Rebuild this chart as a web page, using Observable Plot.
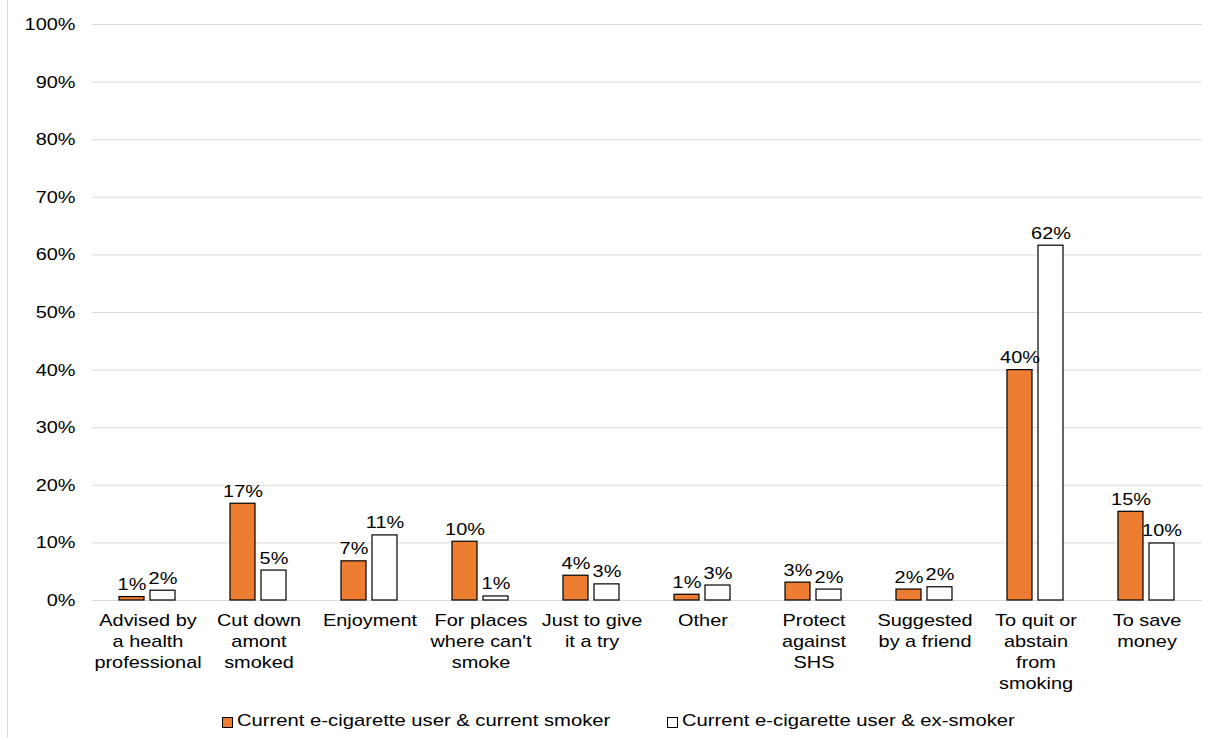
<!DOCTYPE html>
<html>
<head>
<meta charset="utf-8">
<script src="https://cdn.jsdelivr.net/npm/d3@7"></script>
<script src="https://cdn.jsdelivr.net/npm/@observablehq/plot@0.6"></script>
<style>
  html, body { margin: 0; padding: 0; background: #fff; }
  body { width: 1208px; height: 740px; position: relative; overflow: hidden; font-family: "Liberation Sans", Arial, sans-serif; }
  #border { position: absolute; left: 7px; top: 0; width: 1px; height: 738px; background: #d9d9d9; }
  #chart { position: absolute; left: 0; top: 0; }
  #chart svg { display: block; }
  .sw { position: absolute; top: 717px; width: 9px; height: 9px; border: 1px solid #000; box-sizing: content-box; }
  .lab { position: absolute; top: 711px; font-size: 17px; line-height: 20px; color: #000; white-space: nowrap; transform-origin: left center; transform: scaleX(1.19); }
</style>
</head>
<body>
<div id="border"></div>
<div id="chart"></div>
<div id="legend"></div>
<script>
const categories = [
  "Advised by\na health\nprofessional",
  "Cut down\namont\nsmoked",
  "Enjoyment",
  "For places\nwhere can't\nsmoke",
  "Just to give\nit a try",
  "Other",
  "Protect\nagainst\nSHS",
  "Suggested\nby a friend",
  "To quit or\nabstain\nfrom\nsmoking",
  "To save\nmoney"
];
const seriesNames = ["Current e-cigarette user & current smoker", "Current e-cigarette user & ex-smoker"];
const currentSmoker = [0.6, 16.8, 6.8, 10.2, 4.3, 1.0, 3.1, 1.9, 40.0, 15.4];
const exSmoker = [1.7, 5.2, 11.3, 0.7, 2.8, 2.6, 1.9, 2.3, 61.6, 9.9];
const yTicks = [0, 10, 20, 30, 40, 50, 60, 70, 80, 90, 100];
const colors = ["#ed7d31", "#ffffff"];

const data = [];
categories.forEach((c, i) => {
  data.push({category: c, series: seriesNames[0], value: currentSmoker[i]});
  data.push({category: c, series: seriesNames[1], value: exSmoker[i]});
});

const chart = Plot.plot({
  width: 1208,
  height: 700,
  marginLeft: 88,
  marginRight: 3,
  marginTop: 24,
  marginBottom: 100,
  style: {fontFamily: "'Liberation Sans', Arial, sans-serif", fontSize: "17px", color: "#000", background: "transparent"},
  fx: {domain: categories, padding: 0, label: null, tickSize: 0, tickPadding: 13, axis: "bottom"},
  x: {domain: seriesNames, axis: null, paddingInner: 0.19, paddingOuter: 0.84},
  y: {domain: [0, 100], ticks: yTicks, tickFormat: d => d + "%", tickSize: 0, tickPadding: 17, label: null, grid: false},
  color: {domain: seriesNames, range: colors},
  marks: [
    Plot.ruleY(yTicks, {stroke: "#d9d9d9", strokeWidth: 1}),
    Plot.barY(data, {fx: "category", x: "series", y: "value", fill: "series", stroke: "#000", strokeWidth: 1.2}),
    Plot.text(data, {fx: "category", x: "series", y: "value", text: d => Math.round(d.value) + "%", dy: -7, lineAnchor: "bottom", fill: "#000", fontSize: 17})
  ]
});
document.getElementById("chart").appendChild(chart);

// widen glyphs horizontally (reference text is horizontally stretched) and increase line spacing
chart.querySelectorAll("text").forEach(t => {
  let x = t.getAttribute("x");
  if (x == null) {
    const ts = t.querySelector("tspan[x]");
    x = ts ? ts.getAttribute("x") : 0;
  }
  x = +x || 0;
  const existing = t.getAttribute("transform") || "";
  t.setAttribute("transform", `${existing} translate(${x},0) scale(1.17,1) translate(${-x},0)`.trim());
  const tspans = t.querySelectorAll("tspan");
  tspans.forEach((s, i) => { if (i > 0) s.setAttribute("dy", "1.24em"); });
});

const legend = document.getElementById("legend");
const swLeft = [222, 667];
const labLeft = [237, 682];
seriesNames.forEach((s, i) => {
  const sw = document.createElement("div");
  sw.className = "sw";
  sw.style.left = swLeft[i] + "px";
  sw.style.background = colors[i];
  legend.appendChild(sw);
  const lab = document.createElement("div");
  lab.className = "lab";
  lab.style.left = labLeft[i] + "px";
  lab.textContent = s;
  legend.appendChild(lab);
});
</script>
</body>
</html>
